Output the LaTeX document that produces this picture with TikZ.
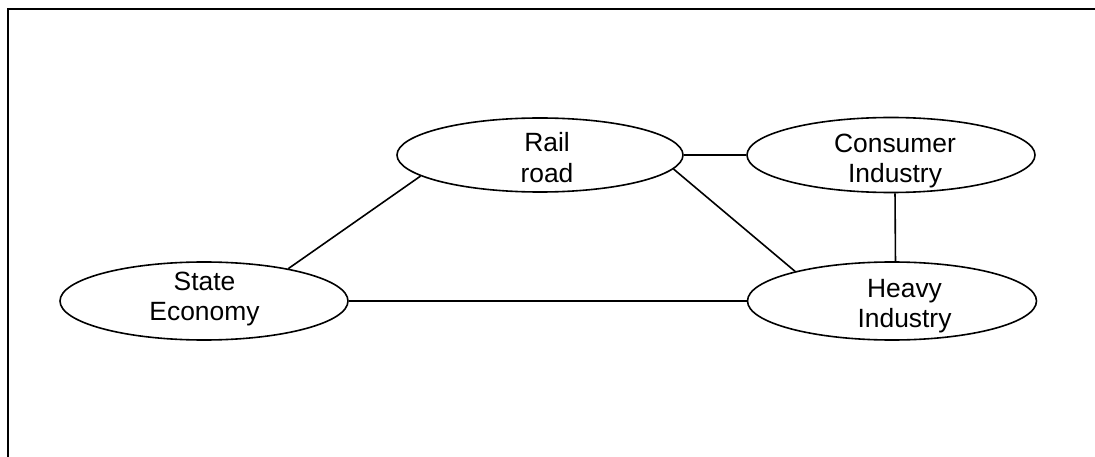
\documentclass[tikz,border=0pt]{standalone}
\usepackage{fontspec}
\setmainfont{Liberation Sans}
\usetikzlibrary{shapes.geometric}
\begin{document}
\begin{tikzpicture}[x=1pt,y=-1pt,
  oval/.style={ellipse, draw, line width=1.6pt, inner sep=0pt},
  lbl/.style={align=center, inner sep=0pt, font=\fontsize{26.4}{30.5}\selectfont},
  link/.style={line width=1.6pt}]
\useasboundingbox (0,0) rectangle (1095,457);
\fill[white] (0,0) rectangle (1095,457);
% frame (top and left edges)
\draw[line width=2pt] (1095,9) -- (8,9) -- (8,457);

% sectors
\node[oval, minimum width=286pt, minimum height=74pt] (rail) at (540,155) {};
\node[oval, minimum width=288pt, minimum height=75pt] (consumer) at (891,155) {};
\node[oval, minimum width=289pt, minimum height=78pt] (heavy) at (892,301) {};
\node[oval, minimum width=288pt, minimum height=78pt] (state) at (204,301) {};

\node[lbl] at (547,157.5) {Rail\\road};
\node[lbl] at (204.5,299) {State\\Economy};
\node[lbl] at (895,161) {Consumer\\Industry};
\node[lbl] at (904.5,306) {Heavy\\Industry};

% links
\draw[link] (state.21.6) -- (rail.190);
\draw[link] (rail.-0.8) -- (consumer.180.8);
\draw[link] (state.east) -- (heavy.west);
\draw[link] (rail.-6.4) -- (heavy.163.9);
\draw[link] (consumer.-84) -- (heavy.85.6);
\end{tikzpicture}
\end{document}
